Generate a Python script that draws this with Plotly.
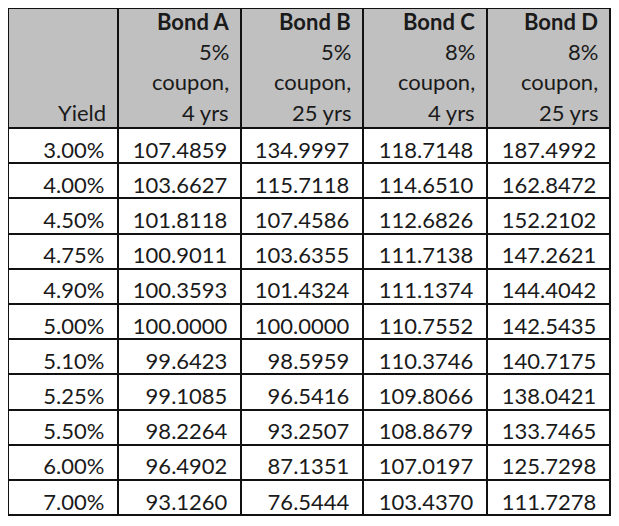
import plotly.graph_objects as go

# yields y precios de cada bono
yields = [0.03, 0.04, 0.045, 0.0475, 0.049, 0.05, 0.051, 0.0525, 0.055, 0.06, 0.07]
bond_a = [107.4859, 103.6627, 101.8118, 100.9011, 100.3593, 100.0000, 99.6423, 99.1085, 98.2264, 96.4902, 93.1260]
bond_b = [134.9997, 115.7118, 107.4586, 103.6355, 101.4324, 100.0000, 98.5959, 96.5416, 93.2507, 87.1351, 76.5444]
bond_c = [118.7148, 114.6510, 112.6826, 111.7138, 111.1374, 110.7552, 110.3746, 109.8066, 108.8679, 107.0197, 103.4370]
bond_d = [187.4992, 162.8472, 152.2102, 147.2621, 144.4042, 142.5435, 140.7175, 138.0421, 133.7465, 125.7298, 111.7278]

# encabezado: una lista por columna, un renglon por linea de texto
encabezado = [
    ["", "", "", "Yield"],
    ["<b>Bond A</b>", "5%", "coupon,", "4 yrs"],
    ["<b>Bond B</b>", "5%", "coupon,", "25 yrs"],
    ["<b>Bond C</b>", "8%", "coupon,", "4 yrs"],
    ["<b>Bond D</b>", "8%", "coupon,", "25 yrs"],
]

W, H = 619, 526
GRIS = "#c0c0c0"
NEGRO = "#111111"
TRANSP = "rgba(0,0,0,0)"
NBSP = "\u00a0"
fuente = dict(family="Lato", size=22, color="#1a1a1a")
anchos = [110, 123, 122, 124, 123]
alto_enc = 120
alto_fila = 35.2
baja_texto = 5    # el texto de las celdas va un poco mas abajo que en plotly
interlinea = 30.3

n = len(yields)
vacias = [[NBSP] * n for _ in anchos]

# grilla: fondos y bordes, sin texto
grilla = go.Table(
    domain=dict(x=[0, sum(anchos) / W], y=[0, 1]),
    columnwidth=anchos,
    header=dict(values=[NBSP] * 5, fill_color=GRIS,
                line=dict(color=NEGRO, width=2), font=fuente, height=alto_enc),
    cells=dict(values=vacias, fill_color="white",
               line=dict(color=NEGRO, width=2), font=fuente, height=alto_fila),
)

# texto de los datos, transparente, un poco mas abajo
textos = go.Table(
    domain=dict(x=[0, sum(anchos) / W], y=[0, 1 - baja_texto / H]),
    columnwidth=anchos,
    header=dict(values=[NBSP] * 5, fill_color=TRANSP,
                line=dict(color=TRANSP, width=0), font=fuente, height=alto_enc),
    cells=dict(
        values=[yields, bond_a, bond_b, bond_c, bond_d],
        format=[".2%", ".4f", ".4f", ".4f", ".4f"],
        suffix=NBSP,
        fill_color=TRANSP,
        line=dict(color=TRANSP, width=0),
        align="right",
        font=fuente,
        height=alto_fila,
    ),
)

fig = go.Figure([grilla, textos])

# texto del encabezado alineado a la derecha, renglon por renglon
borde_der = 0
for j, col in enumerate(encabezado):
    borde_der += anchos[j]
    for k, txt in enumerate(col):
        if not txt:
            continue
        y_px = alto_enc - 16 - (len(col) - 1 - k) * interlinea
        fig.add_annotation(
            text=txt, xref="paper", yref="paper",
            x=(borde_der - 10) / W, y=1 - y_px / H,
            xanchor="right", yanchor="middle",
            showarrow=False, font=fuente,
        )

fig.update_layout(
    width=W, height=H,
    margin=dict(l=0, r=0, t=0, b=0),
    paper_bgcolor="white",
)

fig.write_html("out.html")
